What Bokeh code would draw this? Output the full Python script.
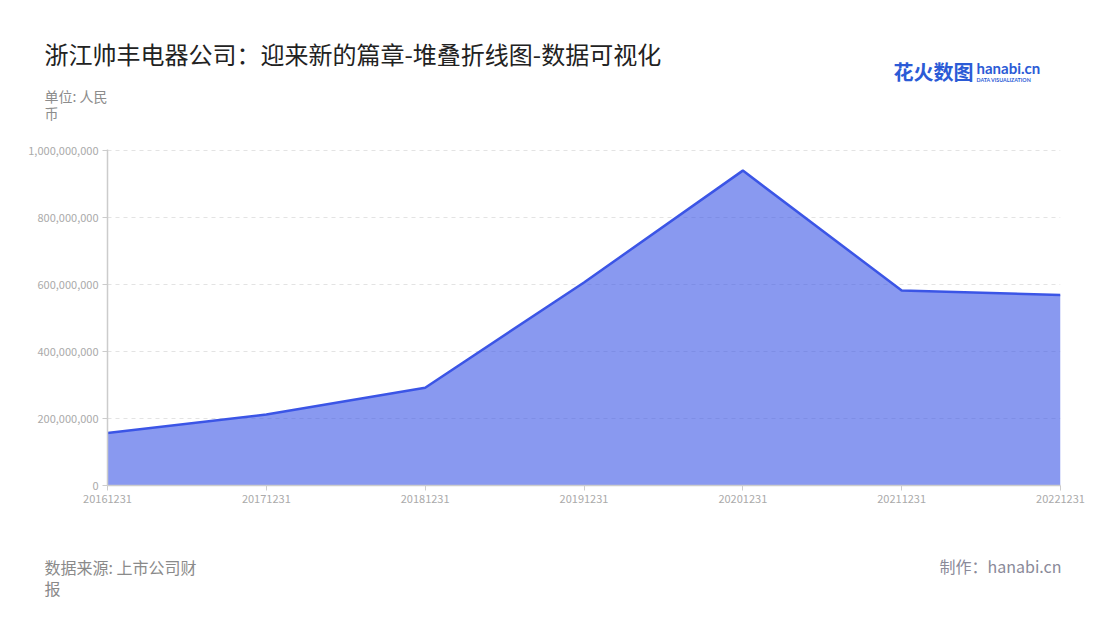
from bokeh.plotting import figure
from bokeh.layouts import column
from bokeh.models import (Range1d, FixedTicker, NumeralTickFormatter, Label, ColumnDataSource)
from bokeh.embed import file_html
from bokeh.resources import INLINE

# ---- data ----
dates = ["20161231", "20171231", "20181231", "20191231", "20201231", "20211231", "20221231"]
revenue = [157000000, 212000000, 292000000, 606000000, 940000000, 582000000, 569000000]
y_ticks = [0, 200000000, 400000000, 600000000, 800000000, 1000000000]

title_text = "浙江帅丰电器公司：迎来新的篇章-堆叠折线图-数据可视化"
unit_lines = ["单位: 人民", "币"]
source_lines = ["数据来源: 上市公司财", "报"]
credit_text = "制作：hanabi.cn"

W = 1096
FRAME_L, FRAME_R = 107, 1060
HEAD_H, MAIN_H, FOOT_H = 135, 395, 86
CJK = "Noto Sans CJK SC"


def blank_fig(h):
    f = figure(width=W, height=h, output_backend="svg", toolbar_location=None,
               x_range=Range1d(0, W), y_range=Range1d(h, 0),
               x_axis_type=None, y_axis_type=None, min_border=0)
    f.frame_align = False
    f.outline_line_color = None
    f.xgrid.grid_line_color = None
    f.ygrid.grid_line_color = None
    return f


def add_label(f, text, x, y, size, color, align="left", style="normal", font=CJK):
    f.add_layout(Label(x=x, y=y, text=text, text_font=font, text_font_size=f"{size}px",
                       text_color=color, text_align=align, text_baseline="top",
                       text_font_style=style))


# ---- header ----
head = blank_fig(HEAD_H)
add_label(head, title_text, 44, 35, 24, "#222222")
add_label(head, unit_lines[0], 44, 85, 14, "#8c8c8c")
add_label(head, unit_lines[1], 44, 102, 14, "#8c8c8c")
add_label(head, "花火数图", 893, 56, 20, "#2b5bd6", style="bold")
add_label(head, "hanabi.cn", 976, 58, 15, "#2b5bd6", style="bold", font="Lato")
add_label(head, "DATA VISUALIZATION", 976, 76, 5.3, "#2b5bd6", style="bold", font="Lato")

# ---- main chart ----
xs = list(range(len(dates)))
src = ColumnDataSource(dict(x=xs, y=revenue, y0=[0] * len(xs)))

p = figure(width=W, height=MAIN_H, output_backend="svg", toolbar_location=None,
           x_range=Range1d(0, len(dates) - 1), y_range=Range1d(0, 1003000000),
           min_border_left=FRAME_L, min_border_right=W - FRAME_R, min_border_top=149 - HEAD_H,
           min_border_bottom=HEAD_H + MAIN_H - 485)
p.frame_align = False
p.outline_line_color = None

p.varea(x="x", y1="y0", y2="y", source=src, fill_color="#3b55e6", fill_alpha=0.6)
p.line(x="x", y="y", source=src, line_color="#3b55e6", line_width=2.5)

p.xaxis.ticker = FixedTicker(ticks=xs)
p.xaxis.major_label_overrides = {i: d for i, d in enumerate(dates)}
p.yaxis.ticker = FixedTicker(ticks=y_ticks)
p.yaxis.formatter = NumeralTickFormatter(format="0,0")
for ax in (p.xaxis[0], p.yaxis[0]):
    ax.axis_line_color = "#cccccc"
    ax.axis_line_width = 1.5
    ax.major_tick_line_color = "#cccccc"
    ax.major_tick_in = 0
    ax.major_tick_out = 5
    ax.minor_tick_line_color = None
    ax.major_label_text_color = "#aaaaaa"
    ax.major_label_text_font = CJK
    ax.major_label_text_font_size = "11px"
    ax.major_label_standoff = 4
p.xgrid.grid_line_color = None
p.ygrid.grid_line_color = "#e3e3e3"
p.ygrid.grid_line_dash = "4 4"

# ---- footer ----
foot = blank_fig(FOOT_H)
top = HEAD_H + MAIN_H
add_label(foot, source_lines[0], 44, 554 - top, 16, "#8a8a8a")
add_label(foot, source_lines[1], 44, 575 - top, 16, "#8a8a8a")
add_label(foot, credit_text, 1061, 553 - top, 16, "#8a8a99", align="right")

layout = column(head, p, foot, spacing=0)
open("out.html", "w").write(file_html(layout, INLINE))
